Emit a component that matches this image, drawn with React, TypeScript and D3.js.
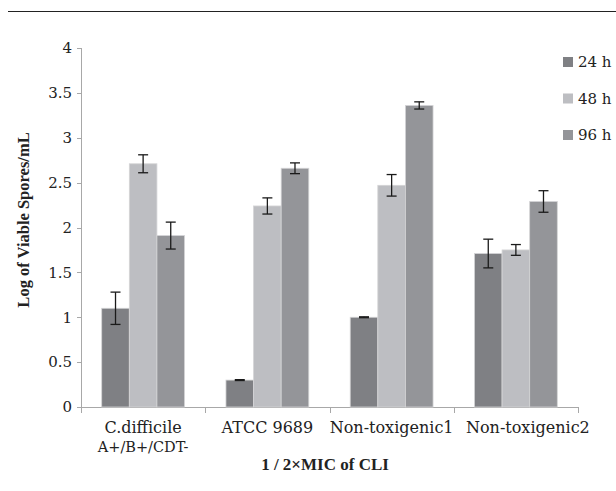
import { useEffect, useRef } from "react";
import * as d3 from "d3";

const categories = ["C.difficile\nA+/B+/CDT-", "ATCC 9689", "Non-toxigenic1", "Non-toxigenic2"];
const seriesNames = ["24 h", "48 h", "96 h"];
const values24 = [1.1, 0.3, 1.0, 1.71];
const values48 = [2.71, 2.24, 2.47, 1.75];
const values96 = [1.91, 2.66, 3.36, 2.29];
const errors24 = [0.18, 0.005, 0.005, 0.16];
const errors48 = [0.1, 0.09, 0.12, 0.06];
const errors96 = [0.15, 0.06, 0.04, 0.12];
const yTicks = [0, 0.5, 1, 1.5, 2, 2.5, 3, 3.5, 4];
const colors = ["#7f8084", "#bdbec2", "#949599"];

const W = 616;
const H = 491;
const FONT = "'DejaVu Serif', serif";
const BOLD_FONT = "'Liberation Serif', serif";

export default function App() {
  const svgRef = useRef<SVGSVGElement>(null);

  useEffect(() => {
    if (!svgRef.current) return;
    const svg = d3.select(svgRef.current);
    svg.selectAll("*").remove();

    const left = 81, right = 578, top = 48, bottom = 407;
    const x = d3.scaleBand<string>().domain(categories).range([left, right]);
    const bw = x.bandwidth() / 4.5;
    const x1 = d3.scaleBand<string>().domain(seriesNames)
      .range([bw * 0.75, bw * 3.75]);
    const y = d3.scaleLinear().domain([0, 4]).range([bottom, top]);

    // rule at the top of the page
    svg.append("line")
      .attr("x1", 8).attr("x2", W).attr("y1", 11.5).attr("y2", 11.5)
      .attr("stroke", "#222").attr("stroke-width", 1);

    const axisColor = "#a8a8a8";

    // y axis
    svg.append("line")
      .attr("x1", left + 0.5).attr("x2", left + 0.5)
      .attr("y1", y(4)).attr("y2", bottom)
      .attr("stroke", axisColor);
    const yt = svg.append("g");
    yt.selectAll("line").data(yTicks).join("line")
      .attr("x1", left - 4).attr("x2", left)
      .attr("y1", (d) => Math.round(y(d)) + 0.5).attr("y2", (d) => Math.round(y(d)) + 0.5)
      .attr("stroke", axisColor);
    yt.selectAll("text").data(yTicks).join("text")
      .attr("x", left - 9).attr("y", (d) => y(d))
      .attr("dy", "0.35em").attr("text-anchor", "end")
      .attr("font-family", FONT).attr("font-size", 15).attr("fill", "#222")
      .text((d) => String(d));

    // x axis
    svg.append("line")
      .attr("x1", left).attr("x2", right)
      .attr("y1", bottom + 0.5).attr("y2", bottom + 0.5)
      .attr("stroke", axisColor);
    const bounds = [...categories.map((c) => x(c)!), right];
    svg.append("g").selectAll("line").data(bounds).join("line")
      .attr("x1", (d) => Math.round(d) + 0.5).attr("x2", (d) => Math.round(d) + 0.5)
      .attr("y1", bottom).attr("y2", bottom + 6)
      .attr("stroke", axisColor);

    categories.forEach((c, ci) => {
      // the last label sits a bit right of its band in the original
      const cx = x(c)! + x.bandwidth() / 2 + (ci === categories.length - 1 ? 12 : 0);
      const t = svg.append("text")
        .attr("x", cx).attr("y", 433)
        .attr("text-anchor", "middle")
        .attr("font-family", FONT).attr("font-size", 16).attr("fill", "#222");
      c.split("\n").forEach((line, i) => {
        t.append("tspan")
          .attr("x", cx)
          .attr("dy", i === 0 ? 0 : 19)
          .attr("font-size", i === 0 ? 16 : 14.5)
          .text(line);
      });
    });

    // bars
    const series = [values24, values48, values96];
    const errs = [errors24, errors48, errors96];
    series.forEach((vals, si) => {
      const g = svg.append("g");
      g.selectAll("rect").data(vals).join("rect")
        .attr("x", (_, i) => x(categories[i])! + x1(seriesNames[si])!)
        .attr("y", (d) => y(d))
        .attr("width", x1.bandwidth())
        .attr("height", (d) => bottom - y(d))
        .attr("fill", colors[si])
        .attr("stroke", "#d4d4d6").attr("stroke-width", 0.8);
    });

    // error bars
    series.forEach((vals, si) => {
      const g = svg.append("g").attr("stroke", "#1a1a1a").attr("stroke-width", 1.3);
      vals.forEach((v, i) => {
        const cx = x(categories[i])! + x1(seriesNames[si])! + x1.bandwidth() / 2;
        const e = errs[si][i];
        const y0 = y(v + e), y1 = y(v - e);
        g.append("line").attr("x1", cx).attr("x2", cx).attr("y1", y0).attr("y2", y1);
        g.append("line").attr("x1", cx - 5).attr("x2", cx + 5).attr("y1", y0).attr("y2", y0);
        g.append("line").attr("x1", cx - 5).attr("x2", cx + 5).attr("y1", y1).attr("y2", y1);
      });
    });

    // axis titles
    svg.append("text")
      .attr("transform", `translate(23,220) rotate(-90)`)
      .attr("text-anchor", "middle").attr("dy", "0.35em")
      .attr("font-family", BOLD_FONT).attr("font-size", 16.5).attr("font-weight", "bold").attr("fill", "#222")
      .text("Log of Viable Spores/mL");
    svg.append("text")
      .attr("x", 325).attr("y", 470)
      .attr("text-anchor", "middle")
      .attr("font-family", BOLD_FONT).attr("font-size", 17).attr("font-weight", "bold").attr("fill", "#222")
      .text("1 / 2×MIC of CLI");

    // legend
    const lg = svg.append("g");
    seriesNames.forEach((s, i) => {
      const ly = 62 + i * 36.5;
      lg.append("rect").attr("x", 563).attr("y", ly - 5).attr("width", 10).attr("height", 10)
        .attr("fill", colors[i]);
      lg.append("text").attr("x", 578).attr("y", ly).attr("dy", "0.35em")
        .attr("font-family", FONT).attr("font-size", 15).attr("fill", "#222")
        .text(s);
    });
  }, []);

  return (
    <div style={{ position: "absolute", left: 0, top: 0, background: "#fff" }}>
      <svg ref={svgRef} width={W} height={H} />
    </div>
  );
}
